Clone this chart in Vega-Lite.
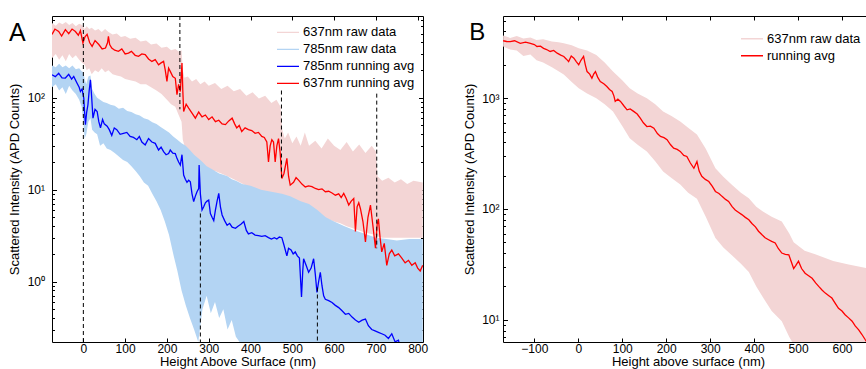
{
  "$schema": "https://vega.github.io/schema/vega-lite/v6.json",
  "padding": {"left": 8, "top": 14, "right": 0, "bottom": 0},
  "spacing": 35,
  "config": {
    "view": {"stroke": null},
    "font": "Liberation Sans",
    "axis": {"labelFont": "Liberation Sans", "titleFont": "Liberation Sans", "titleFontWeight": "normal", "labelColor": "black", "titleColor": "black", "domainColor": "black", "tickColor": "black", "grid": false, "domainWidth": 1, "tickWidth": 1, "labelFontSize": 12.5, "titleFontSize": 13, "labelOverlap": false},
    "legend": {"labelFont": "Liberation Sans", "labelFontSize": 13, "labelColor": "black", "symbolType": "stroke", "symbolSize": 484, "symbolStrokeWidth": 1.4, "labelOffset": 3, "padding": 0, "labelLimit": 300},
    "title": {"font": "Liberation Sans", "fontWeight": "normal", "color": "black"}
  },
  "resolve": {"scale": {"color": "independent", "fill": "independent"}, "legend": {"color": "independent", "fill": "independent"}},
  "datasets": {
    "rawA": [
      {"s":"637nm raw data","x":-75,"lo":270,"hi":650},{"s":"637nm raw data","x":-66,"lo":300,"hi":610},{"s":"637nm raw data","x":-58,"lo":260,"hi":660},{"s":"637nm raw data","x":-50,"lo":290,"hi":630},{"s":"637nm raw data","x":-42,"lo":250,"hi":670},{"s":"637nm raw data","x":-34,"lo":300,"hi":620},{"s":"637nm raw data","x":-26,"lo":270,"hi":650},{"s":"637nm raw data","x":-18,"lo":290,"hi":600},{"s":"637nm raw data","x":-10,"lo":260,"hi":640},{"s":"637nm raw data","x":-3,"lo":240,"hi":620},{"s":"637nm raw data","x":3,"lo":230,"hi":560},{"s":"637nm raw data","x":8,"lo":200,"hi":600},{"s":"637nm raw data","x":14,"lo":210,"hi":560},{"s":"637nm raw data","x":20,"lo":180,"hi":580},{"s":"637nm raw data","x":28,"lo":200,"hi":540},{"s":"637nm raw data","x":36,"lo":190,"hi":560},{"s":"637nm raw data","x":44,"lo":210,"hi":520},{"s":"637nm raw data","x":52,"lo":190,"hi":560},{"s":"637nm raw data","x":60,"lo":200,"hi":520},{"s":"637nm raw data","x":70,"lo":180,"hi":490},{"s":"637nm raw data","x":80,"lo":175,"hi":500},{"s":"637nm raw data","x":90,"lo":170,"hi":460},{"s":"637nm raw data","x":100,"lo":160,"hi":470},{"s":"637nm raw data","x":112,"lo":155,"hi":440},{"s":"637nm raw data","x":125,"lo":150,"hi":450},{"s":"637nm raw data","x":137,"lo":140,"hi":410},{"s":"637nm raw data","x":150,"lo":140,"hi":420},{"s":"637nm raw data","x":162,"lo":130,"hi":380},{"s":"637nm raw data","x":175,"lo":120,"hi":390},{"s":"637nm raw data","x":187,"lo":110,"hi":350},{"s":"637nm raw data","x":200,"lo":95,"hi":360},{"s":"637nm raw data","x":210,"lo":85,"hi":330},{"s":"637nm raw data","x":220,"lo":80,"hi":340},{"s":"637nm raw data","x":228,"lo":65,"hi":320},{"s":"637nm raw data","x":235,"lo":55,"hi":330},{"s":"637nm raw data","x":238,"lo":35,"hi":200},{"s":"637nm raw data","x":242,"lo":30,"hi":165},{"s":"637nm raw data","x":250,"lo":25,"hi":170},{"s":"637nm raw data","x":260,"lo":22,"hi":150},{"s":"637nm raw data","x":270,"lo":21,"hi":160},{"s":"637nm raw data","x":280,"lo":18,"hi":140},{"s":"637nm raw data","x":290,"lo":17,"hi":150},{"s":"637nm raw data","x":300,"lo":16,"hi":135},{"s":"637nm raw data","x":315,"lo":16,"hi":145},{"s":"637nm raw data","x":330,"lo":15,"hi":125},{"s":"637nm raw data","x":345,"lo":14,"hi":135},{"s":"637nm raw data","x":360,"lo":13,"hi":118},{"s":"637nm raw data","x":375,"lo":12,"hi":125},{"s":"637nm raw data","x":390,"lo":11,"hi":105},{"s":"637nm raw data","x":405,"lo":10,"hi":115},{"s":"637nm raw data","x":420,"lo":10,"hi":98},{"s":"637nm raw data","x":435,"lo":9,"hi":105},{"s":"637nm raw data","x":450,"lo":9,"hi":88},{"s":"637nm raw data","x":462,"lo":8.5,"hi":95},{"s":"637nm raw data","x":472,"lo":8,"hi":80},{"s":"637nm raw data","x":476,"lo":7,"hi":45},{"s":"637nm raw data","x":482,"lo":6.5,"hi":36},{"s":"637nm raw data","x":490,"lo":6.5,"hi":42},{"s":"637nm raw data","x":500,"lo":6.5,"hi":32},{"s":"637nm raw data","x":510,"lo":6,"hi":38},{"s":"637nm raw data","x":520,"lo":6,"hi":30},{"s":"637nm raw data","x":530,"lo":5.8,"hi":42},{"s":"637nm raw data","x":540,"lo":5.5,"hi":30},{"s":"637nm raw data","x":555,"lo":5.3,"hi":34},{"s":"637nm raw data","x":570,"lo":5,"hi":28},{"s":"637nm raw data","x":585,"lo":4.8,"hi":36},{"s":"637nm raw data","x":600,"lo":4.5,"hi":30},{"s":"637nm raw data","x":615,"lo":4.3,"hi":27},{"s":"637nm raw data","x":630,"lo":4,"hi":33},{"s":"637nm raw data","x":645,"lo":3.8,"hi":26},{"s":"637nm raw data","x":660,"lo":3.6,"hi":31},{"s":"637nm raw data","x":675,"lo":3.4,"hi":25},{"s":"637nm raw data","x":690,"lo":3.3,"hi":30},{"s":"637nm raw data","x":700,"lo":3.2,"hi":26},{"s":"637nm raw data","x":704,"lo":3.1,"hi":14},{"s":"637nm raw data","x":715,"lo":3,"hi":12.5},{"s":"637nm raw data","x":730,"lo":3,"hi":13.5},{"s":"637nm raw data","x":745,"lo":3,"hi":12},{"s":"637nm raw data","x":760,"lo":3,"hi":13},{"s":"637nm raw data","x":775,"lo":3,"hi":11.5},{"s":"637nm raw data","x":790,"lo":3,"hi":12.5},{"s":"637nm raw data","x":812,"lo":3,"hi":12},
      {"s":"785nm raw data","x":-75,"lo":130,"hi":225},{"s":"785nm raw data","x":-66,"lo":140,"hi":215},{"s":"785nm raw data","x":-58,"lo":120,"hi":235},{"s":"785nm raw data","x":-50,"lo":130,"hi":215},{"s":"785nm raw data","x":-42,"lo":110,"hi":225},{"s":"785nm raw data","x":-34,"lo":135,"hi":210},{"s":"785nm raw data","x":-26,"lo":120,"hi":225},{"s":"785nm raw data","x":-18,"lo":110,"hi":205},{"s":"785nm raw data","x":-10,"lo":95,"hi":210},{"s":"785nm raw data","x":-4,"lo":80,"hi":195},{"s":"785nm raw data","x":0,"lo":55,"hi":190},{"s":"785nm raw data","x":3,"lo":36,"hi":160},{"s":"785nm raw data","x":7,"lo":40,"hi":140},{"s":"785nm raw data","x":12,"lo":55,"hi":170},{"s":"785nm raw data","x":17,"lo":60,"hi":175},{"s":"785nm raw data","x":21,"lo":45,"hi":125},{"s":"785nm raw data","x":27,"lo":42,"hi":110},{"s":"785nm raw data","x":33,"lo":40,"hi":100},{"s":"785nm raw data","x":40,"lo":30,"hi":95},{"s":"785nm raw data","x":48,"lo":32,"hi":90},{"s":"785nm raw data","x":56,"lo":28,"hi":88},{"s":"785nm raw data","x":65,"lo":27,"hi":84},{"s":"785nm raw data","x":75,"lo":25,"hi":82},{"s":"785nm raw data","x":85,"lo":23,"hi":76},{"s":"785nm raw data","x":95,"lo":21,"hi":78},{"s":"785nm raw data","x":105,"lo":20,"hi":72},{"s":"785nm raw data","x":115,"lo":18,"hi":70},{"s":"785nm raw data","x":125,"lo":16,"hi":66},{"s":"785nm raw data","x":135,"lo":14,"hi":64},{"s":"785nm raw data","x":145,"lo":12,"hi":60},{"s":"785nm raw data","x":155,"lo":11,"hi":58},{"s":"785nm raw data","x":165,"lo":9,"hi":54},{"s":"785nm raw data","x":175,"lo":7.5,"hi":52},{"s":"785nm raw data","x":185,"lo":6,"hi":48},{"s":"785nm raw data","x":195,"lo":4.5,"hi":45},{"s":"785nm raw data","x":205,"lo":3.2,"hi":42},{"s":"785nm raw data","x":215,"lo":2,"hi":38},{"s":"785nm raw data","x":225,"lo":1.3,"hi":35},{"s":"785nm raw data","x":235,"lo":0.8,"hi":32},{"s":"785nm raw data","x":245,"lo":0.55,"hi":30},{"s":"785nm raw data","x":255,"lo":0.4,"hi":27},{"s":"785nm raw data","x":265,"lo":0.3,"hi":24},{"s":"785nm raw data","x":275,"lo":0.22,"hi":22},{"s":"785nm raw data","x":285,"lo":0.5,"hi":20},{"s":"785nm raw data","x":295,"lo":0.7,"hi":18},{"s":"785nm raw data","x":305,"lo":0.45,"hi":17},{"s":"785nm raw data","x":315,"lo":0.6,"hi":16},{"s":"785nm raw data","x":325,"lo":0.4,"hi":15},{"s":"785nm raw data","x":335,"lo":0.5,"hi":14.5},{"s":"785nm raw data","x":345,"lo":0.3,"hi":14},{"s":"785nm raw data","x":355,"lo":0.38,"hi":13},{"s":"785nm raw data","x":365,"lo":0.25,"hi":12.5},{"s":"785nm raw data","x":380,"lo":0.2,"hi":11.5},{"s":"785nm raw data","x":400,"lo":0.2,"hi":11},{"s":"785nm raw data","x":425,"lo":0.2,"hi":10},{"s":"785nm raw data","x":450,"lo":0.2,"hi":9.5},{"s":"785nm raw data","x":475,"lo":0.2,"hi":9},{"s":"785nm raw data","x":495,"lo":0.2,"hi":8.5},{"s":"785nm raw data","x":520,"lo":0.2,"hi":7.5},{"s":"785nm raw data","x":540,"lo":0.2,"hi":7},{"s":"785nm raw data","x":560,"lo":0.2,"hi":6},{"s":"785nm raw data","x":580,"lo":0.2,"hi":5},{"s":"785nm raw data","x":600,"lo":0.2,"hi":4.5},{"s":"785nm raw data","x":625,"lo":0.2,"hi":4},{"s":"785nm raw data","x":650,"lo":0.2,"hi":3.6},{"s":"785nm raw data","x":675,"lo":0.2,"hi":3.3},{"s":"785nm raw data","x":700,"lo":0.2,"hi":3},{"s":"785nm raw data","x":725,"lo":0.2,"hi":2.9},{"s":"785nm raw data","x":750,"lo":0.2,"hi":2.8},{"s":"785nm raw data","x":780,"lo":0.2,"hi":2.9},{"s":"785nm raw data","x":812,"lo":0.2,"hi":2.9}
    ],
    "avgA": [
      {"s":"785nm running avg","x":-75,"y":178},{"s":"785nm running avg","x":-67,"y":170},{"s":"785nm running avg","x":-59,"y":185},{"s":"785nm running avg","x":-51,"y":165},{"s":"785nm running avg","x":-43,"y":164},{"s":"785nm running avg","x":-35,"y":180},{"s":"785nm running avg","x":-28,"y":160},{"s":"785nm running avg","x":-23,"y":171},{"s":"785nm running avg","x":-15,"y":144},{"s":"785nm running avg","x":-10,"y":130},{"s":"785nm running avg","x":-7,"y":117},{"s":"785nm running avg","x":-3,"y":125},{"s":"785nm running avg","x":1,"y":99},{"s":"785nm running avg","x":3,"y":70},{"s":"785nm running avg","x":5,"y":51},{"s":"785nm running avg","x":8,"y":70},{"s":"785nm running avg","x":11,"y":84},{"s":"785nm running avg","x":14,"y":120},{"s":"785nm running avg","x":17,"y":157},{"s":"785nm running avg","x":20,"y":100},{"s":"785nm running avg","x":23,"y":60},{"s":"785nm running avg","x":28,"y":75},{"s":"785nm running avg","x":33,"y":71},{"s":"785nm running avg","x":37,"y":55},{"s":"785nm running avg","x":41,"y":47},{"s":"785nm running avg","x":46,"y":58},{"s":"785nm running avg","x":50,"y":52},{"s":"785nm running avg","x":57,"y":49},{"s":"785nm running avg","x":62,"y":45},{"s":"785nm running avg","x":68,"y":39},{"s":"785nm running avg","x":74,"y":47},{"s":"785nm running avg","x":80,"y":45},{"s":"785nm running avg","x":88,"y":40},{"s":"785nm running avg","x":96,"y":41},{"s":"785nm running avg","x":104,"y":42},{"s":"785nm running avg","x":112,"y":38},{"s":"785nm running avg","x":120,"y":37},{"s":"785nm running avg","x":128,"y":35},{"s":"785nm running avg","x":134,"y":38},{"s":"785nm running avg","x":140,"y":33},{"s":"785nm running avg","x":148,"y":30.7},{"s":"785nm running avg","x":156,"y":36},{"s":"785nm running avg","x":164,"y":33},{"s":"785nm running avg","x":172,"y":31.9},{"s":"785nm running avg","x":180,"y":27},{"s":"785nm running avg","x":186,"y":29},{"s":"785nm running avg","x":192,"y":25.9},{"s":"785nm running avg","x":198,"y":24},{"s":"785nm running avg","x":204,"y":24.7},{"s":"785nm running avg","x":208,"y":27},{"s":"785nm running avg","x":214,"y":25},{"s":"785nm running avg","x":220,"y":24.7},{"s":"785nm running avg","x":224,"y":21.9},{"s":"785nm running avg","x":228,"y":20},{"s":"785nm running avg","x":232,"y":18.5},{"s":"785nm running avg","x":236,"y":24},{"s":"785nm running avg","x":240,"y":14.4},{"s":"785nm running avg","x":244,"y":13},{"s":"785nm running avg","x":248,"y":12},{"s":"785nm running avg","x":252,"y":12.7},{"s":"785nm running avg","x":256,"y":12.2},{"s":"785nm running avg","x":260,"y":9},{"s":"785nm running avg","x":264,"y":7.4},{"s":"785nm running avg","x":268,"y":8.5},{"s":"785nm running avg","x":272,"y":9.5},{"s":"785nm running avg","x":276,"y":10.3},{"s":"785nm running avg","x":277,"y":18.5},{"s":"785nm running avg","x":280,"y":9},{"s":"785nm running avg","x":284,"y":6},{"s":"785nm running avg","x":288,"y":6.5},{"s":"785nm running avg","x":292,"y":7.2},{"s":"785nm running avg","x":296,"y":7.5},{"s":"785nm running avg","x":300,"y":7.7},{"s":"785nm running avg","x":304,"y":5.5},{"s":"785nm running avg","x":308,"y":5},{"s":"785nm running avg","x":312,"y":4.6},{"s":"785nm running avg","x":316,"y":6},{"s":"785nm running avg","x":320,"y":7.5},{"s":"785nm running avg","x":324,"y":9.1},{"s":"785nm running avg","x":328,"y":6.5},{"s":"785nm running avg","x":332,"y":5.3},{"s":"785nm running avg","x":338,"y":4.6},{"s":"785nm running avg","x":344,"y":4.1},{"s":"785nm running avg","x":350,"y":4.3},{"s":"785nm running avg","x":356,"y":3.9},{"s":"785nm running avg","x":364,"y":3.8},{"s":"785nm running avg","x":370,"y":4},{"s":"785nm running avg","x":377,"y":4.2},{"s":"785nm running avg","x":384,"y":4.5},{"s":"785nm running avg","x":390,"y":3.6},{"s":"785nm running avg","x":395,"y":3.3},{"s":"785nm running avg","x":403,"y":3.4},{"s":"785nm running avg","x":411,"y":3.2},{"s":"785nm running avg","x":419,"y":3.16},{"s":"785nm running avg","x":427,"y":3.1},{"s":"785nm running avg","x":435,"y":3.15},{"s":"785nm running avg","x":443,"y":3},{"s":"785nm running avg","x":450,"y":2.9},{"s":"785nm running avg","x":457,"y":3},{"s":"785nm running avg","x":463,"y":2.9},{"s":"785nm running avg","x":469,"y":3.05},{"s":"785nm running avg","x":475,"y":3},{"s":"785nm running avg","x":480,"y":2.5},{"s":"785nm running avg","x":487,"y":1.9},{"s":"785nm running avg","x":491,"y":2.3},{"s":"785nm running avg","x":497,"y":2.2},{"s":"785nm running avg","x":502,"y":2},{"s":"785nm running avg","x":507,"y":2.1},{"s":"785nm running avg","x":512,"y":1.9},{"s":"785nm running avg","x":517,"y":1.8},{"s":"785nm running avg","x":522,"y":0.68},{"s":"785nm running avg","x":525,"y":1.3},{"s":"785nm running avg","x":527,"y":1.77},{"s":"785nm running avg","x":533,"y":1.5},{"s":"785nm running avg","x":539,"y":1.26},{"s":"785nm running avg","x":545,"y":1.4},{"s":"785nm running avg","x":551,"y":1.77},{"s":"785nm running avg","x":555,"y":1.2},{"s":"785nm running avg","x":559,"y":0.76},{"s":"785nm running avg","x":563,"y":1},{"s":"785nm running avg","x":567,"y":1.26},{"s":"785nm running avg","x":571,"y":0.9},{"s":"785nm running avg","x":575,"y":0.7},{"s":"785nm running avg","x":579,"y":0.64},{"s":"785nm running avg","x":587,"y":0.62},{"s":"785nm running avg","x":595,"y":0.59},{"s":"785nm running avg","x":603,"y":0.55},{"s":"785nm running avg","x":611,"y":0.52},{"s":"785nm running avg","x":619,"y":0.48},{"s":"785nm running avg","x":627,"y":0.44},{"s":"785nm running avg","x":635,"y":0.45},{"s":"785nm running avg","x":643,"y":0.41},{"s":"785nm running avg","x":651,"y":0.38},{"s":"785nm running avg","x":659,"y":0.36},{"s":"785nm running avg","x":667,"y":0.38},{"s":"785nm running avg","x":675,"y":0.39},{"s":"785nm running avg","x":682,"y":0.33},{"s":"785nm running avg","x":690,"y":0.3},{"s":"785nm running avg","x":698,"y":0.29},{"s":"785nm running avg","x":706,"y":0.28},{"s":"785nm running avg","x":714,"y":0.27},{"s":"785nm running avg","x":722,"y":0.26},{"s":"785nm running avg","x":730,"y":0.24},{"s":"785nm running avg","x":738,"y":0.27},{"s":"785nm running avg","x":746,"y":0.22},{"s":"785nm running avg","x":754,"y":0.23},{"s":"785nm running avg","x":758,"y":0.19},
      {"s":"637nm running avg","x":-75,"y":490},{"s":"637nm running avg","x":-68,"y":560},{"s":"637nm running avg","x":-59,"y":527},{"s":"637nm running avg","x":-52,"y":470},{"s":"637nm running avg","x":-43,"y":553},{"s":"637nm running avg","x":-35,"y":500},{"s":"637nm running avg","x":-27,"y":560},{"s":"637nm running avg","x":-19,"y":527},{"s":"637nm running avg","x":-12,"y":480},{"s":"637nm running avg","x":-7,"y":540},{"s":"637nm running avg","x":-1,"y":395},{"s":"637nm running avg","x":4,"y":460},{"s":"637nm running avg","x":9,"y":490},{"s":"637nm running avg","x":15,"y":400},{"s":"637nm running avg","x":21,"y":363},{"s":"637nm running avg","x":28,"y":420},{"s":"637nm running avg","x":37,"y":380},{"s":"637nm running avg","x":45,"y":340},{"s":"637nm running avg","x":53,"y":348},{"s":"637nm running avg","x":58,"y":400},{"s":"637nm running avg","x":60,"y":468},{"s":"637nm running avg","x":63,"y":380},{"s":"637nm running avg","x":68,"y":348},{"s":"637nm running avg","x":75,"y":330},{"s":"637nm running avg","x":84,"y":321},{"s":"637nm running avg","x":92,"y":340},{"s":"637nm running avg","x":100,"y":300},{"s":"637nm running avg","x":108,"y":307},{"s":"637nm running avg","x":115,"y":320},{"s":"637nm running avg","x":124,"y":290},{"s":"637nm running avg","x":132,"y":283},{"s":"637nm running avg","x":140,"y":300},{"s":"637nm running avg","x":148,"y":295},{"s":"637nm running avg","x":156,"y":265},{"s":"637nm running avg","x":164,"y":249},{"s":"637nm running avg","x":172,"y":260},{"s":"637nm running avg","x":180,"y":229},{"s":"637nm running avg","x":186,"y":240},{"s":"637nm running avg","x":192,"y":249},{"s":"637nm running avg","x":196,"y":200},{"s":"637nm running avg","x":200,"y":151},{"s":"637nm running avg","x":204,"y":210},{"s":"637nm running avg","x":208,"y":194},{"s":"637nm running avg","x":214,"y":170},{"s":"637nm running avg","x":220,"y":163},{"s":"637nm running avg","x":224,"y":108},{"s":"637nm running avg","x":228,"y":140},{"s":"637nm running avg","x":232,"y":117},{"s":"637nm running avg","x":236,"y":239},{"s":"637nm running avg","x":238,"y":120},{"s":"637nm running avg","x":240,"y":71},{"s":"637nm running avg","x":246,"y":85},{"s":"637nm running avg","x":252,"y":77},{"s":"637nm running avg","x":260,"y":68},{"s":"637nm running avg","x":268,"y":60},{"s":"637nm running avg","x":276,"y":70},{"s":"637nm running avg","x":284,"y":62},{"s":"637nm running avg","x":292,"y":65},{"s":"637nm running avg","x":300,"y":58},{"s":"637nm running avg","x":308,"y":62},{"s":"637nm running avg","x":316,"y":55},{"s":"637nm running avg","x":324,"y":57},{"s":"637nm running avg","x":332,"y":52},{"s":"637nm running avg","x":340,"y":51},{"s":"637nm running avg","x":348,"y":56},{"s":"637nm running avg","x":356,"y":60},{"s":"637nm running avg","x":362,"y":52},{"s":"637nm running avg","x":367,"y":47},{"s":"637nm running avg","x":373,"y":50},{"s":"637nm running avg","x":379,"y":43},{"s":"637nm running avg","x":387,"y":47},{"s":"637nm running avg","x":395,"y":45},{"s":"637nm running avg","x":403,"y":44},{"s":"637nm running avg","x":411,"y":41},{"s":"637nm running avg","x":419,"y":42},{"s":"637nm running avg","x":427,"y":38},{"s":"637nm running avg","x":433,"y":37},{"s":"637nm running avg","x":439,"y":33},{"s":"637nm running avg","x":443,"y":20},{"s":"637nm running avg","x":447,"y":30},{"s":"637nm running avg","x":451,"y":35},{"s":"637nm running avg","x":455,"y":33},{"s":"637nm running avg","x":459,"y":20},{"s":"637nm running avg","x":463,"y":30},{"s":"637nm running avg","x":467,"y":36},{"s":"637nm running avg","x":471,"y":25},{"s":"637nm running avg","x":475,"y":13.2},{"s":"637nm running avg","x":480,"y":15},{"s":"637nm running avg","x":487,"y":21.9},{"s":"637nm running avg","x":491,"y":14},{"s":"637nm running avg","x":495,"y":11.2},{"s":"637nm running avg","x":503,"y":12},{"s":"637nm running avg","x":509,"y":13.5},{"s":"637nm running avg","x":515,"y":12.7},{"s":"637nm running avg","x":523,"y":11.5},{"s":"637nm running avg","x":531,"y":10.7},{"s":"637nm running avg","x":539,"y":11},{"s":"637nm running avg","x":547,"y":10.8},{"s":"637nm running avg","x":555,"y":10.3},{"s":"637nm running avg","x":563,"y":10},{"s":"637nm running avg","x":571,"y":10.2},{"s":"637nm running avg","x":579,"y":9.5},{"s":"637nm running avg","x":587,"y":9.6},{"s":"637nm running avg","x":595,"y":9.2},{"s":"637nm running avg","x":603,"y":8.7},{"s":"637nm running avg","x":611,"y":9},{"s":"637nm running avg","x":617,"y":8.2},{"s":"637nm running avg","x":623,"y":9.1},{"s":"637nm running avg","x":629,"y":8},{"s":"637nm running avg","x":635,"y":6.8},{"s":"637nm running avg","x":641,"y":7.5},{"s":"637nm running avg","x":647,"y":8},{"s":"637nm running avg","x":651,"y":3.5},{"s":"637nm running avg","x":655,"y":6.5},{"s":"637nm running avg","x":659,"y":7.2},{"s":"637nm running avg","x":663,"y":6.2},{"s":"637nm running avg","x":669,"y":4.5},{"s":"637nm running avg","x":675,"y":2.7},{"s":"637nm running avg","x":681,"y":5},{"s":"637nm running avg","x":687,"y":6.8},{"s":"637nm running avg","x":693,"y":4},{"s":"637nm running avg","x":699,"y":2.3},{"s":"637nm running avg","x":703,"y":4.2},{"s":"637nm running avg","x":706,"y":4.8},{"s":"637nm running avg","x":710,"y":3},{"s":"637nm running avg","x":714,"y":2.1},{"s":"637nm running avg","x":720,"y":2.6},{"s":"637nm running avg","x":726,"y":1.5},{"s":"637nm running avg","x":732,"y":2},{"s":"637nm running avg","x":738,"y":2.2},{"s":"637nm running avg","x":745,"y":1.9},{"s":"637nm running avg","x":754,"y":2},{"s":"637nm running avg","x":762,"y":1.8},{"s":"637nm running avg","x":770,"y":1.6},{"s":"637nm running avg","x":778,"y":1.7},{"s":"637nm running avg","x":786,"y":1.5},{"s":"637nm running avg","x":794,"y":1.6},{"s":"637nm running avg","x":800,"y":1.4},{"s":"637nm running avg","x":806,"y":1.3},{"s":"637nm running avg","x":812,"y":1.5}
    ],
    "dashA": [
      {"x":0,"top":777,"bot":0.2195},{"x":231,"top":777,"bot":75},{"x":474,"top":120,"bot":13.5},{"x":702,"top":111,"bot":2.3},{"x":280,"top":5.5,"bot":0.2195},{"x":560,"top":0.86,"bot":0.2195}
    ],
    "rawB": [
      {"s":"637nm raw data","x":-171,"lo":2930,"hi":3680},{"s":"637nm raw data","x":-155,"lo":2750,"hi":3500},{"s":"637nm raw data","x":-140,"lo":2700,"hi":3650},{"s":"637nm raw data","x":-125,"lo":2400,"hi":3450},{"s":"637nm raw data","x":-109,"lo":2480,"hi":3540},{"s":"637nm raw data","x":-95,"lo":2200,"hi":3350},{"s":"637nm raw data","x":-80,"lo":2100,"hi":3400},{"s":"637nm raw data","x":-60,"lo":1900,"hi":3250},{"s":"637nm raw data","x":-45,"lo":1750,"hi":3200},{"s":"637nm raw data","x":-33,"lo":1640,"hi":3130},{"s":"637nm raw data","x":-15,"lo":1400,"hi":3000},{"s":"637nm raw data","x":1,"lo":1230,"hi":2830},{"s":"637nm raw data","x":20,"lo":1100,"hi":2700},{"s":"637nm raw data","x":41,"lo":1000,"hi":2460},{"s":"637nm raw data","x":60,"lo":880,"hi":2100},{"s":"637nm raw data","x":79,"lo":760,"hi":1740},{"s":"637nm raw data","x":100,"lo":560,"hi":1450},{"s":"637nm raw data","x":117,"lo":435,"hi":1230},{"s":"637nm raw data","x":135,"lo":380,"hi":1100},{"s":"637nm raw data","x":156,"lo":330,"hi":1000},{"s":"637nm raw data","x":175,"lo":270,"hi":880},{"s":"637nm raw data","x":193,"lo":218,"hi":760},{"s":"637nm raw data","x":212,"lo":190,"hi":690},{"s":"637nm raw data","x":232,"lo":166,"hi":617},{"s":"637nm raw data","x":250,"lo":140,"hi":540},{"s":"637nm raw data","x":270,"lo":124,"hi":470},{"s":"637nm raw data","x":290,"lo":85,"hi":350},{"s":"637nm raw data","x":312,"lo":54.6,"hi":233},{"s":"637nm raw data","x":330,"lo":45,"hi":195},{"s":"637nm raw data","x":350,"lo":38,"hi":165},{"s":"637nm raw data","x":370,"lo":32,"hi":140},{"s":"637nm raw data","x":388,"lo":27,"hi":125},{"s":"637nm raw data","x":405,"lo":20,"hi":105},{"s":"637nm raw data","x":420,"lo":16,"hi":95},{"s":"637nm raw data","x":440,"lo":12,"hi":85},{"s":"637nm raw data","x":463,"lo":9.7,"hi":77},{"s":"637nm raw data","x":480,"lo":7,"hi":60},{"s":"637nm raw data","x":490,"lo":6,"hi":50},{"s":"637nm raw data","x":515,"lo":6,"hi":42},{"s":"637nm raw data","x":539,"lo":6,"hi":39},{"s":"637nm raw data","x":580,"lo":6,"hi":34},{"s":"637nm raw data","x":615,"lo":6,"hi":31.6},{"s":"637nm raw data","x":660,"lo":6,"hi":29}
    ],
    "avgB": [
      {"s":"running avg","x":-171,"y":3300},{"s":"running avg","x":-163,"y":3250},{"s":"running avg","x":-155,"y":3240},{"s":"running avg","x":-145,"y":3300},{"s":"running avg","x":-132,"y":3130},{"s":"running avg","x":-120,"y":3200},{"s":"running avg","x":-109,"y":3130},{"s":"running avg","x":-100,"y":3050},{"s":"running avg","x":-94,"y":2930},{"s":"running avg","x":-86,"y":2950},{"s":"running avg","x":-79,"y":2820},{"s":"running avg","x":-72,"y":2750},{"s":"running avg","x":-64,"y":2640},{"s":"running avg","x":-56,"y":2700},{"s":"running avg","x":-48,"y":2550},{"s":"running avg","x":-40,"y":2450},{"s":"running avg","x":-33,"y":2380},{"s":"running avg","x":-27,"y":2250},{"s":"running avg","x":-22,"y":2140},{"s":"running avg","x":-16,"y":2400},{"s":"running avg","x":-10,"y":2300},{"s":"running avg","x":-5,"y":2150},{"s":"running avg","x":1,"y":2000},{"s":"running avg","x":6,"y":2200},{"s":"running avg","x":12,"y":2380},{"s":"running avg","x":16,"y":2000},{"s":"running avg","x":20,"y":1740},{"s":"running avg","x":26,"y":1650},{"s":"running avg","x":31,"y":1515},{"s":"running avg","x":35,"y":1650},{"s":"running avg","x":39,"y":1740},{"s":"running avg","x":44,"y":1550},{"s":"running avg","x":50,"y":1415},{"s":"running avg","x":58,"y":1350},{"s":"running avg","x":65,"y":1275},{"s":"running avg","x":71,"y":1200},{"s":"running avg","x":77,"y":1150},{"s":"running avg","x":81,"y":1050},{"s":"running avg","x":84,"y":935},{"s":"running avg","x":90,"y":980},{"s":"running avg","x":96,"y":935},{"s":"running avg","x":104,"y":850},{"s":"running avg","x":111,"y":785},{"s":"running avg","x":118,"y":800},{"s":"running avg","x":126,"y":760},{"s":"running avg","x":134,"y":720},{"s":"running avg","x":141,"y":660},{"s":"running avg","x":148,"y":600},{"s":"running avg","x":156,"y":555},{"s":"running avg","x":164,"y":560},{"s":"running avg","x":172,"y":536},{"s":"running avg","x":180,"y":480},{"s":"running avg","x":187,"y":452},{"s":"running avg","x":195,"y":440},{"s":"running avg","x":202,"y":422},{"s":"running avg","x":210,"y":380},{"s":"running avg","x":217,"y":354},{"s":"running avg","x":225,"y":345},{"s":"running avg","x":232,"y":331},{"s":"running avg","x":240,"y":305},{"s":"running avg","x":247,"y":298},{"s":"running avg","x":255,"y":260},{"s":"running avg","x":263,"y":233},{"s":"running avg","x":270,"y":268},{"s":"running avg","x":275,"y":220},{"s":"running avg","x":281,"y":197},{"s":"running avg","x":289,"y":185},{"s":"running avg","x":297,"y":177},{"s":"running avg","x":305,"y":160},{"s":"running avg","x":312,"y":144},{"s":"running avg","x":320,"y":138},{"s":"running avg","x":327,"y":130},{"s":"running avg","x":335,"y":122},{"s":"running avg","x":342,"y":117},{"s":"running avg","x":350,"y":105},{"s":"running avg","x":357,"y":98},{"s":"running avg","x":365,"y":93},{"s":"running avg","x":372,"y":89},{"s":"running avg","x":380,"y":84},{"s":"running avg","x":388,"y":80},{"s":"running avg","x":395,"y":74},{"s":"running avg","x":403,"y":69},{"s":"running avg","x":410,"y":63},{"s":"running avg","x":418,"y":58.5},{"s":"running avg","x":425,"y":55},{"s":"running avg","x":433,"y":52.8},{"s":"running avg","x":440,"y":51},{"s":"running avg","x":448,"y":49.3},{"s":"running avg","x":455,"y":44},{"s":"running avg","x":463,"y":40},{"s":"running avg","x":471,"y":39},{"s":"running avg","x":479,"y":38.6},{"s":"running avg","x":485,"y":33},{"s":"running avg","x":490,"y":29},{"s":"running avg","x":495,"y":31},{"s":"running avg","x":501,"y":33.8},{"s":"running avg","x":508,"y":29},{"s":"running avg","x":516,"y":26.3},{"s":"running avg","x":524,"y":25},{"s":"running avg","x":532,"y":23.7},{"s":"running avg","x":540,"y":21.5},{"s":"running avg","x":547,"y":20},{"s":"running avg","x":555,"y":18.5},{"s":"running avg","x":562,"y":17.4},{"s":"running avg","x":570,"y":16.5},{"s":"running avg","x":577,"y":15.7},{"s":"running avg","x":585,"y":14},{"s":"running avg","x":592,"y":12.7},{"s":"running avg","x":600,"y":12},{"s":"running avg","x":607,"y":11.1},{"s":"running avg","x":615,"y":10.4},{"s":"running avg","x":623,"y":9.7},{"s":"running avg","x":630,"y":8.8},{"s":"running avg","x":638,"y":8.1},{"s":"running avg","x":645,"y":7.4},{"s":"running avg","x":653,"y":6.6},{"s":"running avg","x":660,"y":6}
    ]
  },
  "hconcat": [
    {
      "width": 371,
      "height": 326,
      "resolve": {"axis": {"x": "independent", "y": "independent"}},
      "layer": [
        {
          "data": {"name": "rawA"},
          "mark": {"type": "area", "clip": true, "opacity": 1},
          "encoding": {
            "x": {"field": "x", "type": "quantitative", "scale": {"domain": [-75, 812.7], "nice": false, "zero": false},
                  "axis": {"orient": "bottom", "values": [0,100,200,300,400,500,600,700,800], "tickSize": -4, "labelPadding": 5, "labelFontSize": 12, "title": "Height Above Surface (nm)", "titlePadding": 1.5}},
            "y": {"field": "lo", "type": "quantitative", "stack": null, "scale": {"type": "log", "domain": [0.2195, 777], "nice": false},
                  "axis": {"orient": "left", "values": [0.3,0.4,0.5,0.6,0.7,0.8,0.9,1,2,3,4,5,6,7,8,9,10,20,30,40,50,60,70,80,90,100,200,300,400,500,600,700],
                           "labelExpr": "datum.value == 1 ? '10⁰' : datum.value == 10 ? '10¹' : datum.value == 100 ? '10²' : ''",
                           "tickSize": {"condition": {"test": "datum.value == 1 || datum.value == 10 || datum.value == 100", "value": -4.5}, "value": -2.5},
                           "labelFontSize": 12, "labelPadding": 12, "title": "Scattered Intensity (APD Counts)", "titlePadding": 6}},
            "y2": {"field": "hi"},
            "fill": {"field": "s", "type": "nominal", "scale": {"domain": ["637nm raw data","785nm raw data"], "range": ["#f3d5d5","#b3d4f3"]}, "legend": null}
          }
        },
        {
          "data": {"name": "avgA"},
          "mark": {"type": "line", "clip": true, "strokeWidth": 1.3},
          "encoding": {
            "x": {"field": "x", "type": "quantitative", "scale": {"domain": [-75, 812.7], "nice": false, "zero": false}, "axis": null},
            "y": {"field": "y", "type": "quantitative", "scale": {"type": "log", "domain": [0.2195, 777], "nice": false}, "axis": null},
            "color": {"field": "s", "type": "nominal", "scale": {"domain": ["637nm raw data","785nm raw data","785nm running avg","637nm running avg"], "range": ["#f3d5d5","#b3d4f3","#0000ff","#ff0000"]},
                      "legend": {"orient": "top-right", "offset": 7.7, "title": null, "clipHeight": 16.7, "rowPadding": 0}}
          }
        },
        {
          "data": {"name": "dashA"},
          "mark": {"type": "rule", "clip": true, "color": "black", "strokeWidth": 1, "strokeDash": [4, 3]},
          "encoding": {
            "x": {"field": "x", "type": "quantitative", "scale": {"domain": [-75, 812.7], "nice": false, "zero": false},
                  "axis": {"orient": "top", "values": [0,100,200,300,400,500,600,700,800], "tickSize": -4, "labels": false,
                           "title": "A", "titleFontSize": 25, "titleX": -43.5, "titleY": 24, "titleAlign": "left", "titleBaseline": "alphabetic", "titleAngle": 0}},
            "y": {"field": "top", "type": "quantitative", "scale": {"type": "log", "domain": [0.2195, 777], "nice": false},
                  "axis": {"orient": "right", "values": [0.3,0.4,0.5,0.6,0.7,0.8,0.9,1,2,3,4,5,6,7,8,9,10,20,30,40,50,60,70,80,90,100,200,300,400,500,600,700],
                           "tickSize": {"condition": {"test": "datum.value == 1 || datum.value == 10 || datum.value == 100", "value": -4.5}, "value": -2.5},
                           "labels": false, "title": null}},
            "y2": {"field": "bot"}
          }
        }
      ]
    },
    {
      "width": 363,
      "height": 326,
      "resolve": {"axis": {"x": "independent", "y": "independent"}},
      "layer": [
        {
          "data": {"name": "rawB"},
          "mark": {"type": "area", "clip": true, "opacity": 1},
          "encoding": {
            "x": {"field": "x", "type": "quantitative", "scale": {"domain": [-171.3, 654.6], "nice": false, "zero": false},
                  "axis": {"orient": "bottom", "values": [-100,0,100,200,300,400,500,600], "tickSize": -4, "labelPadding": 5, "labelFontSize": 12, "title": "Height above surface (nm)", "titlePadding": 1.5, "titleX": 185}},
            "y": {"field": "lo", "type": "quantitative", "stack": null, "scale": {"type": "log", "domain": [6.3, 5520], "nice": false},
                  "axis": {"orient": "left", "values": [7,8,9,10,20,30,40,50,60,70,80,90,100,200,300,400,500,600,700,800,900,1000,2000,3000,4000,5000],
                           "labelExpr": "datum.value == 10 ? '10¹' : datum.value == 100 ? '10²' : datum.value == 1000 ? '10³' : ''",
                           "tickSize": {"condition": {"test": "datum.value == 10 || datum.value == 100 || datum.value == 1000", "value": -4.5}, "value": -2.5},
                           "labelFontSize": 12, "labelPadding": 8.5, "title": "Scattered Intensity (APD Counts)", "titlePadding": 5}},
            "y2": {"field": "hi"},
            "fill": {"field": "s", "type": "nominal", "scale": {"domain": ["637nm raw data"], "range": ["#f3d5d5"]}, "legend": null}
          }
        },
        {
          "data": {"name": "avgB"},
          "mark": {"type": "line", "clip": true, "strokeWidth": 1.3},
          "encoding": {
            "x": {"field": "x", "type": "quantitative", "scale": {"domain": [-171.3, 654.6], "nice": false, "zero": false},
                  "axis": {"orient": "top", "values": [-100,0,100,200,300,400,500,600], "tickSize": -4, "labels": false,
                           "title": "B", "titleFontSize": 24, "titleX": -34.3, "titleY": 23, "titleAlign": "left", "titleBaseline": "alphabetic", "titleAngle": 0}},
            "y": {"field": "y", "type": "quantitative", "scale": {"type": "log", "domain": [6.3, 5520], "nice": false}, "axis": null},
            "color": {"field": "s", "type": "nominal", "scale": {"domain": ["637nm raw data","running avg"], "range": ["#f3d5d5","#ff0000"]},
                      "legend": {"orient": "top-right", "offset": 5, "title": " ", "titleFontSize": 1, "titlePadding": 8.4, "clipHeight": 16.7, "rowPadding": 0}}
          }
        }
      ]
    }
  ]
}
